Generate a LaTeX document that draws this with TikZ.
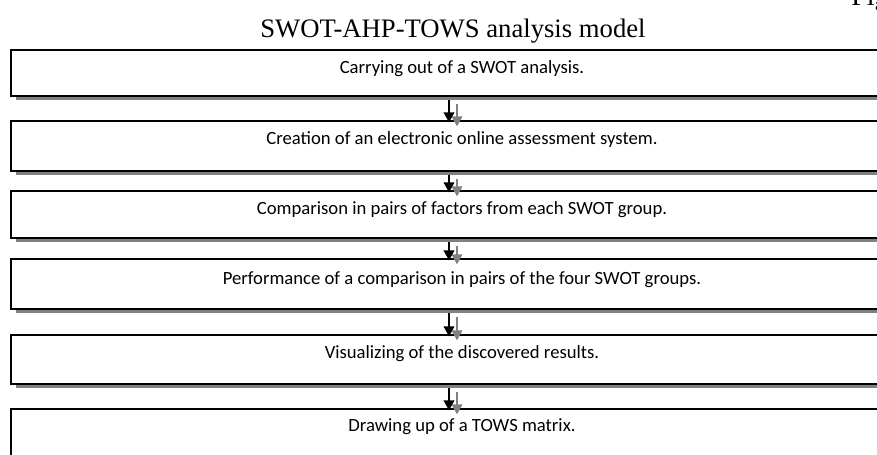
\documentclass[tikz,border=0pt]{standalone}
\usepackage{fontspec}
\setmainfont{Liberation Serif}
\newfontfamily\boxfont{Carlito}
\usetikzlibrary{arrows.meta}
\definecolor{shadowgray}{RGB}{128,128,128}
\tikzset{
  stepbox/.style={draw=black, line width=1.6pt, fill=white},
  shadowbox/.style={fill=shadowgray, draw=none},
  boxtext/.style={font=\boxfont\fontsize{14}{16}\selectfont, anchor=base},
  flowarrow/.style={draw=black, line width=1.3pt, -{Triangle[length=7.5pt,width=8pt]}},
  shadowarrow/.style={draw=shadowgray, line width=1.3pt, -{Triangle[length=7.5pt,width=8pt]}},
}
\begin{document}
\begin{tikzpicture}[x=0.75pt,y=-0.75pt]
\useasboundingbox (0,0) rectangle (877,454);
\fill[white] (0,0) rectangle (877,454);
% title and fig label
\node[font=\fontsize{20}{24}\selectfont, anchor=base] (title) at (453,37) {SWOT-AHP-TOWS analysis model};
\node[font=\fontsize{21}{24}\selectfont, anchor=base west, inner sep=0pt] (fig) at (851,5) {Fig};
% boxes: top, bottom
\foreach \n/\t/\b in {1/50/96, 2/121/171, 3/191/238, 4/259/309, 5/335/384, 6/409/470}{
  \fill[shadowbox] (16,\t+5) rectangle (900,\b+4);
  \draw[stepbox] (11,\t) rectangle (900,\b);
  \coordinate (top\n) at (449,\t);
  \coordinate (bot\n) at (449,\b);
}
\node[boxtext] (t1) at (462,73) {Carrying out of a SWOT analysis.};
\node[boxtext] (t2) at (462,144) {Creation of an electronic online assessment system.};
\node[boxtext] (t3) at (462,214) {Comparison in pairs of factors from each SWOT group.};
\node[boxtext] (t4) at (462,284) {Performance of a comparison in pairs of the four SWOT groups.};
\node[boxtext] (t5) at (462,358) {Visualizing of the discovered results.};
\node[boxtext] (t6) at (462,431) {Drawing up of a TOWS matrix.};
% arrows
\foreach \a/\b in {1/2,2/3,3/4,4/5,5/6}{
  \draw[shadowarrow] ([xshift=6,yshift=-6]bot\a) -- ([xshift=6,yshift=-4]top\b);
  \draw[flowarrow] ([yshift=-3]bot\a) -- ([yshift=-1]top\b);
}
\end{tikzpicture}
\end{document}
